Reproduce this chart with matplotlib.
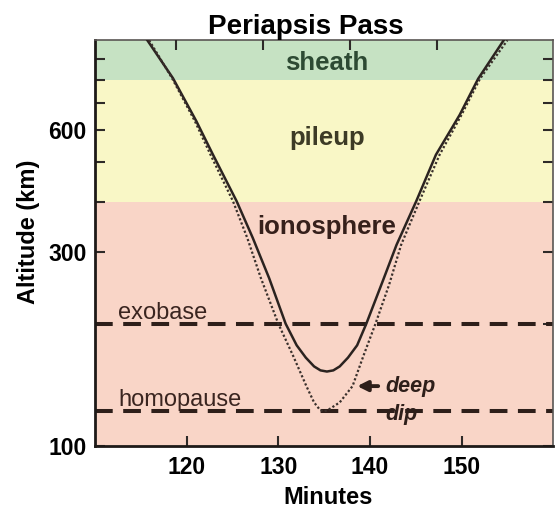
import matplotlib.pyplot as plt

plt.rcParams['font.family'] = ['Liberation Sans', 'DejaVu Sans']

# nominal pass (solid)
solid_min = [115.7, 118.5, 121.06, 122.87, 125.45, 127.2, 129.0, 130.8, 132.0, 133.0,
             133.9, 134.6, 135.3, 136.0, 136.7, 137.6, 138.6, 139.6, 141.4, 142.9,
             145.05, 147.2, 149.8, 151.8, 154.6]
solid_alt = [1000, 806, 631, 522, 401, 326, 259, 200, 177, 165,
             157, 153.5, 152.5, 153.5, 157, 165, 177, 200, 255, 313,
             401, 522, 655, 803, 1000]

# deep dip pass (dotted)
dip_min = [115.9, 118.4, 120.9, 122.6, 125.05, 126.6, 128.1, 130.0, 131.6, 133.06,
           133.9, 134.5, 134.9, 135.4, 136.0, 136.7, 138.1, 139.3, 140.6, 142.1,
           143.4, 145.4, 147.6, 150.0, 152.0, 155.0]
dip_alt = [1000, 806, 631, 522, 401, 326, 259, 200, 167, 140.4,
           128, 123, 121.5, 122.5, 125, 128, 140.4, 167, 200, 250,
           313, 401, 522, 655, 803, 1000]

# regions (bottom, top, label, label altitude)
regions = [(100, 400, 'ionosphere', 347), (400, 800, 'pileup', 574), (800, 1000, 'sheath', 880)]
region_colors = ['#f9d5c7', '#f9f7c6', '#c6e2c3']
region_text = ['#36201b', '#3d3b26', '#2d4a33']

exobase = 200
homopause = 122

xticks = [120, 130, 140, 150]
top_ticks = [118.8, 128.3, 137.8, 147.3]
yticks = [100, 300, 600]

fig = plt.figure(figsize=(5.56, 5.09), dpi=100)
ax = fig.add_axes([0.171, 0.124, 0.824, 0.797])

for (lo, hi, name, ya), c, tc in zip(regions, region_colors, region_text):
    ax.axhspan(lo, hi, color=c, lw=0, zorder=0)
    ax.text(135.3, ya, name, ha='center', va='center', fontsize=18.5,
            fontweight='bold', color=tc, zorder=3)

for yv in (exobase, homopause):
    ln = ax.axhline(yv, color='#2e1f1a', lw=2.9, zorder=2)
    ln.set_dashes((4.4, 2.6))

ax.text(112.5, 212, 'exobase', fontsize=17, color='#3a2520', va='center', zorder=3)
ax.text(112.5, 130, 'homopause', fontsize=17, color='#3a2520', va='center', zorder=3)

ax.plot(solid_min, solid_alt, color='#2b2320', lw=1.8, zorder=4)
ax.plot(dip_min, dip_alt, color='#3a302c', lw=1.6, ls=(0, (1, 1)), zorder=4)

ax.annotate('', xy=(138.3, 140.4), xytext=(141.2, 140.4),
            arrowprops=dict(arrowstyle='-|>', color='#2e1f1a', lw=2.8,
                            mutation_scale=15), zorder=5)
ax.text(141.7, 140.4, 'deep', fontsize=15.5, fontstyle='italic', fontweight='bold',
        color='#2e1f1a', va='center', zorder=5)
ax.text(141.7, 119.5, 'dip', fontsize=15.5, fontstyle='italic', fontweight='bold',
        color='#2e1f1a', va='center', zorder=5)

ax.set_yscale('log')
ax.set_xlim(110, 160)
ax.set_ylim(100, 1000)
ax.set_xticks(xticks)
ax.set_xticklabels([str(v) for v in xticks])
ax.set_yticks(yticks)
ax.set_yticklabels([str(v) for v in yticks])
ax.yaxis.set_minor_formatter(plt.NullFormatter())
ax.tick_params(which='both', direction='in', length=7, width=1.5, labelsize=16.5,
               right=True, color='#2e2a28')
ax.tick_params(axis='y', pad=6)
ax.tick_params(axis='x', top=False, pad=7)
for lab in ax.get_xticklabels() + ax.get_yticklabels():
    lab.set_fontweight('bold')

ax2 = ax.twiny()
ax2.set_xlim(110, 160)
ax2.set_xticks(top_ticks)
ax2.set_xticklabels([])
ax2.tick_params(direction='in', length=7, width=1.5, color='#2e2a28')
for sp in ax2.spines.values():
    sp.set_visible(False)

for side in ('left', 'bottom'):
    ax.spines[side].set_linewidth(2)
    ax.spines[side].set_color('#1e1a18')
for side in ('top', 'right'):
    ax.spines[side].set_linewidth(1.2)
    ax.spines[side].set_color('#5a5654')

ax.set_xlabel('Minutes', fontsize=17, fontweight='bold')
ax.xaxis.set_label_coords(0.509, -0.1)
ax.set_ylabel('Altitude (km)', fontsize=17, fontweight='bold')
ax.yaxis.set_label_coords(-0.12, 0.527)
ax.set_title('Periapsis Pass', fontsize=20, fontweight='bold', pad=4, x=0.461)

fig.savefig('out.png', dpi=100)
